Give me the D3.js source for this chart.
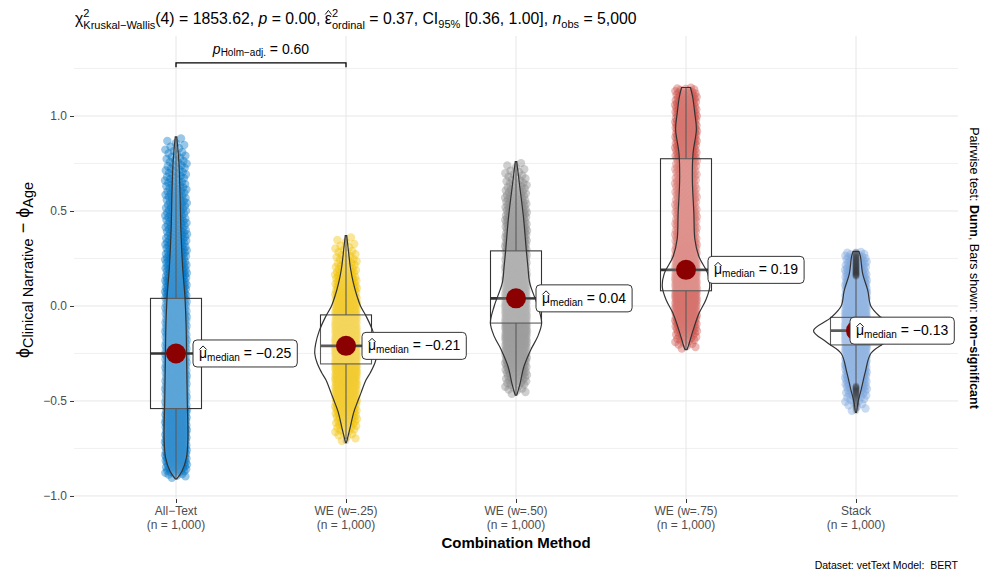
<!DOCTYPE html>
<html>
<head>
<meta charset="utf-8">
<script src="https://cdn.jsdelivr.net/npm/d3@7"></script>
<style>
  body { margin: 0; background: #fff; }
  svg { font-family: "Liberation Sans", Arial, Helvetica, sans-serif; }
  svg text { white-space: pre; }
</style>
</head>
<body>
<svg id="chart" width="982" height="574"></svg>
<script>
// ---- data ----
const categories = ["All\u2212Text", "WE (w=.25)", "WE (w=.50)", "WE (w=.75)", "Stack"];
const groupN = [1000, 1000, 1000, 1000, 1000];
const colors = ["#0073C2", "#EFC000", "#868686", "#CD534C", "#7AA6DC"];
const medians = [-0.25, -0.21, 0.04, 0.19, -0.13];
const q1 = [-0.54, -0.305, -0.09, 0.08, -0.205];
const q3 = [0.04, -0.047, 0.29, 0.775, -0.06];
const whiskerLo = [-0.91, -0.70, -0.47, -0.23, -0.42];
const whiskerHi = [0.89, 0.37, 0.76, 1.15, 0.155];

// violin profiles: [value, estimated density]
const densAllText = [[0.89,0.05],[0.85,0.1],[0.75,0.2],[0.6,0.27],[0.4,0.33],[0.2,0.45],[0.05,0.6],[-0.1,0.68],[-0.3,0.72],[-0.5,0.76],[-0.7,0.8],[-0.8,0.7],[-0.87,0.4],[-0.91,0.05]];
const densWE25 = [[0.37,0.05],[0.3,0.15],[0.2,0.3],[0.12,0.5],[0.05,0.75],[0.0,0.98],[-0.06,1.4],[-0.13,1.8],[-0.2,2.05],[-0.25,2.11],[-0.3,1.95],[-0.35,1.65],[-0.39,1.35],[-0.46,1.0],[-0.51,0.75],[-0.56,0.52],[-0.64,0.28],[-0.72,0.03]];
const densWE50 = [[0.76,0.05],[0.65,0.22],[0.47,0.5],[0.29,0.7],[0.21,0.8],[0.12,0.93],[0.0,1.47],[-0.09,1.73],[-0.16,1.47],[-0.23,1.0],[-0.32,0.53],[-0.41,0.27],[-0.47,0.05]];
const densWE75 = [[1.15,0.3],[1.1,0.45],[1.01,0.6],[0.93,0.7],[0.8,0.47],[0.66,0.43],[0.49,0.53],[0.35,0.6],[0.26,0.87],[0.17,1.47],[0.1,1.6],[0.03,1.33],[-0.04,0.87],[-0.13,0.47],[-0.2,0.2],[-0.23,0.07]];
const densStack = [[0.286,0.2],[0.26,0.3],[0.17,0.45],[0.08,0.8],[0.0,1.0],[-0.06,1.67],[-0.13,2.87],[-0.19,2.0],[-0.25,1.0],[-0.35,0.62],[-0.44,0.35],[-0.5,0.15],[-0.56,0.04]];
const densities = [densAllText, densWE25, densWE50, densWE75, densStack];

const yTicks = [-1, -0.5, 0, 0.5, 1];
const yMinor = [-0.75, -0.25, 0.25, 0.75, 1.25];
const pairwise = [{ a: 0, b: 1, p: "0.60", level: 1.28 }];

// ---- layout ----
const svg = d3.select("#chart");
const panel = { left: 74, right: 958, top: 36, bottom: 499 };
const x = d3.scalePoint().domain(categories).range([panel.left, panel.right]).padding(0.6);
const y = d3.scaleLinear().domain([-1.016, 1.421]).range([panel.bottom, panel.top]);
const step = x.step();
const labelDx = [17, 16, 20, 22, -6];
const ink = "#333333";

// rich text: parts laid out left to right, sup parts stack with the next one
function rich(parent, px, py, parts, anchor, fill) {
  const g = parent.append("g").attr("transform", `translate(${px},${py})`);
  const inner = g.append("g");
  let cx = 0, pend = 0;
  parts.forEach(p => {
    const t = inner.append("text").attr("x", cx).attr("y", p.dy || 0)
      .style("font-size", p.s + "px")
      .style("font-style", p.i ? "italic" : null)
      .style("font-weight", p.b ? "bold" : null)
      .attr("fill", fill || "#000").text(p.t);
    const w = t.node().getComputedTextLength();
    if (p.hat) {
      inner.append("path")
        .attr("d", `M${cx + w * 0.05},${-p.s * 0.6} L${cx + w / 2},${-p.s * 0.86} L${cx + w * 0.95},${-p.s * 0.6}`)
        .attr("fill", "none").attr("stroke", fill || "#000").attr("stroke-width", 0.9);
    }
    if (p.sup) pend = w; else { cx += Math.max(w, pend); pend = 0; }
  });
  if (anchor === "middle") inner.attr("transform", `translate(${-cx / 2},0)`);
  if (anchor === "end") inner.attr("transform", `translate(${-cx},0)`);
  return { g, width: cx };
}

// ---- grid ----
const grid = svg.append("g");
grid.selectAll("line.minor").data(yMinor).join("line")
  .attr("x1", panel.left).attr("x2", panel.right)
  .attr("y1", d => y(d)).attr("y2", d => y(d))
  .attr("stroke", "#EDEDED").attr("stroke-width", 0.8);
grid.selectAll("line.major").data(yTicks).join("line")
  .attr("x1", panel.left).attr("x2", panel.right)
  .attr("y1", d => y(d)).attr("y2", d => y(d))
  .attr("stroke", "#E6E6E6").attr("stroke-width", 1);
grid.selectAll("line.vx").data(categories).join("line")
  .attr("x1", d => x(d)).attr("x2", d => x(d))
  .attr("y1", panel.top).attr("y2", panel.bottom)
  .attr("stroke", "#E6E6E6").attr("stroke-width", 1);

// ---- axes ----
const yAxis = svg.append("g").attr("transform", `translate(${panel.left},0)`)
  .call(d3.axisLeft(y).tickValues(yTicks).tickFormat(d3.format(".1f")).tickSize(4).tickPadding(3));
yAxis.select(".domain").remove();
yAxis.selectAll("line").attr("stroke", ink);
yAxis.selectAll("text").attr("fill", "#4D4D4D").style("font-size", "12px").style("font-family", null);

const xAxis = svg.append("g").attr("transform", `translate(0,${panel.bottom})`)
  .call(d3.axisBottom(x).tickSize(4).tickFormat(""));
xAxis.select(".domain").remove();
xAxis.selectAll("line").attr("stroke", ink);
categories.forEach((c, i) => {
  const t = svg.append("text").attr("x", x(c)).attr("text-anchor", "middle")
    .attr("fill", "#4D4D4D").style("font-size", "12px");
  t.append("tspan").attr("x", x(c)).attr("y", 515).text(c);
  t.append("tspan").attr("x", x(c)).attr("y", 529).text(`(n = ${d3.format(",")(groupN[i])})`);
});

// ---- distributions ----
const maxDens = d3.max(densities, d => d3.max(d, p => p[1]));
const halfW = d => d / maxDens * (0.5 * step / 2);

function quantilesFromProfile(profile, n) {
  const pr = profile.slice().sort((a, b) => a[0] - b[0]);
  const fine = [];
  for (let k = 1; k < pr.length; k++) {
    const [v0, d0] = pr[k - 1], [v1, d1] = pr[k];
    for (let s = 0; s < 20; s++) {
      const t = s / 20;
      fine.push([v0 + (v1 - v0) * t, d0 + (d1 - d0) * t]);
    }
  }
  fine.push(pr[pr.length - 1]);
  const cum = [0];
  for (let k = 1; k < fine.length; k++) {
    cum.push(cum[k - 1] + (fine[k][1] + fine[k - 1][1]) / 2 * (fine[k][0] - fine[k - 1][0]));
  }
  const total = cum[cum.length - 1];
  const out = [];
  let k = 1;
  for (let i = 0; i < n; i++) {
    const target = (i + 0.5) / n * total;
    while (k < cum.length - 1 && cum[k] < target) k++;
    const f = (target - cum[k - 1]) / (cum[k] - cum[k - 1] || 1);
    out.push(fine[k - 1][0] + (fine[k][0] - fine[k - 1][0]) * f);
  }
  return out;
}

const pointsLayer = svg.append("g");
const boxLayer = svg.append("g");
const violinLayer = svg.append("g");
const topLayer = svg.append("g");
const jitter = 0.065 * step;
const boxW = 0.3 * step;

categories.forEach((c, i) => {
  const cx = x(c);
  const vals = quantilesFromProfile(densities[i], groupN[i]);
  const pts = vals.map((v, k) => ({ v, dx: ((k * 0.6180339 + 0.31) % 1) * 2 - 1 }));

  pointsLayer.append("g").selectAll("circle").data(pts).join("circle")
    .attr("cx", d => cx + d.dx * jitter).attr("cy", d => y(d.v)).attr("r", 4.2)
    .attr("fill", colors[i]).attr("fill-opacity", 0.4);

  // box
  const b = boxLayer.append("g");
  b.append("line").attr("x1", cx).attr("x2", cx).attr("y1", y(q3[i])).attr("y2", y(whiskerHi[i]))
    .attr("stroke", ink).attr("stroke-width", 1.1);
  b.append("line").attr("x1", cx).attr("x2", cx).attr("y1", y(q1[i])).attr("y2", y(whiskerLo[i]))
    .attr("stroke", ink).attr("stroke-width", 1.1);
  b.append("rect").attr("x", cx - boxW / 2).attr("width", boxW)
    .attr("y", y(q3[i])).attr("height", y(q1[i]) - y(q3[i]))
    .attr("fill", "#fff").attr("fill-opacity", 0.2).attr("stroke", ink).attr("stroke-width", 1.1);
  b.append("line").attr("x1", cx - boxW / 2).attr("x2", cx + boxW / 2)
    .attr("y1", y(medians[i])).attr("y2", y(medians[i]))
    .attr("stroke", ink).attr("stroke-width", 2.6);
  const outliers = pts.filter(d => d.v > whiskerHi[i] || d.v < whiskerLo[i]);
  b.append("g").selectAll("circle").data(outliers).join("circle")
    .attr("cx", cx).attr("cy", d => y(d.v)).attr("r", 3.4)
    .attr("fill", "#000").attr("fill-opacity", 0.12);

  // violin
  const prof = densities[i].slice().sort((a, b) => b[0] - a[0]);
  const area = d3.area().curve(d3.curveCatmullRom.alpha(0.5))
    .y(d => y(d[0])).x0(d => cx - halfW(d[1])).x1(d => cx + halfW(d[1]));
  violinLayer.append("path").attr("d", area(prof))
    .attr("fill", "#fff").attr("fill-opacity", 0.2)
    .attr("stroke", ink).attr("stroke-width", 1.2);

  // centrality point + label
  const my = y(medians[i]);
  const lx = cx + labelDx[i];
  topLayer.append("line").attr("x1", cx).attr("x2", lx).attr("y1", my).attr("y2", my)
    .attr("stroke", ink).attr("stroke-width", 1);
  topLayer.append("circle").attr("cx", cx).attr("cy", my).attr("r", 10).attr("fill", "#8B0000");
  const lab = topLayer.append("g");
  const rect = lab.append("rect");
  const r = rich(lab, lx + 6, my + 4.5, [
    { t: "\u03BC", s: 14, hat: true },
    { t: "median", s: 10, dy: 3 },
    { t: " = " + d3.format(".2f")(medians[i]), s: 14 }
  ], "start", "#000");
  rect.attr("x", lx).attr("y", my - 13.5).attr("width", r.width + 12).attr("height", 27)
    .attr("rx", 4).attr("fill", "#fff").attr("stroke", ink).attr("stroke-width", 1);
});

// ---- pairwise bracket ----
pairwise.forEach(pw => {
  const x1 = x(categories[pw.a]), x2 = x(categories[pw.b]);
  const by = y(pw.level);
  svg.append("path").attr("d", `M${x1},${by + 4.5} V${by} H${x2} V${by + 4.5}`)
    .attr("fill", "none").attr("stroke", "#000").attr("stroke-width", 1.3);
  rich(svg, (x1 + x2) / 2, by - 9, [
    { t: "p", s: 14, i: true },
    { t: "Holm\u2212adj.", s: 10, dy: 2 },
    { t: " = " + pw.p, s: 14 }
  ], "middle");
});

// ---- titles ----
rich(svg, 75, 24, [
  { t: "\u03C7", s: 15.8 },
  { t: "2", s: 11, dy: -7.5, sup: true },
  { t: "Kruskal\u2212Wallis", s: 11, dy: 5 },
  { t: "(4) = 1853.62, ", s: 15.8 },
  { t: "p", s: 15.8, i: true },
  { t: " = 0.00, ", s: 15.8 },
  { t: "\u03B5", s: 15.8, hat: true },
  { t: "2", s: 11, dy: -7.5, sup: true },
  { t: "ordinal", s: 11, dy: 5 },
  { t: " = 0.37, CI", s: 15.8 },
  { t: "95%", s: 11, dy: 4 },
  { t: " [0.36, 1.00], ", s: 15.8 },
  { t: "n", s: 15.8, i: true },
  { t: "obs", s: 11, dy: 4 },
  { t: " = 5,000", s: 15.8 }
], "start");

const yTitle = svg.append("g").attr("transform", "translate(29,270) rotate(-90)");
rich(yTitle, 0, 0, [
  { t: "\u03D5", s: 18 },
  { t: "Clinical Narrative", s: 14.5, dy: 3.5 },
  { t: " \u2212 ", s: 18 },
  { t: "\u03D5", s: 18 },
  { t: "Age", s: 14.5, dy: 3.5 }
], "middle");

svg.append("text").attr("x", (panel.left + panel.right) / 2).attr("y", 548)
  .attr("text-anchor", "middle").style("font-size", "15px").style("font-weight", "bold")
  .text("Combination Method");

svg.append("text").attr("x", panel.right).attr("y", 569).attr("text-anchor", "end")
  .style("font-size", "10.5px").text("Dataset: vetText Model:  BERT");

const side = svg.append("g").attr("transform", "translate(970,268) rotate(90)");
rich(side, 0, 0, [
  { t: "Pairwise test: ", s: 12.5 },
  { t: "Dunn", s: 12.5, b: true },
  { t: ", Bars shown: ", s: 12.5 },
  { t: "non\u2212significant", s: 12.5, b: true }
], "middle");
</script>
</body>
</html>
